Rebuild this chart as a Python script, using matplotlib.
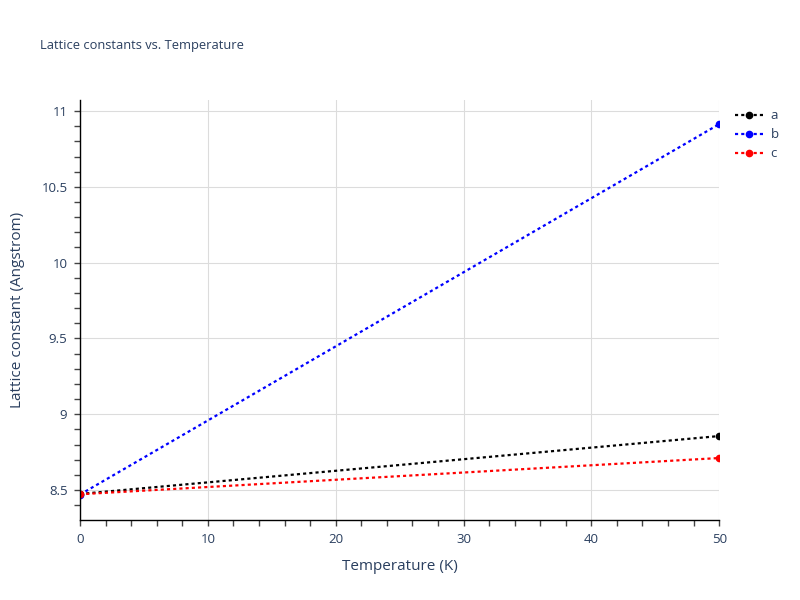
import matplotlib
matplotlib.use("Agg")
import matplotlib.pyplot as plt
from matplotlib.ticker import MultipleLocator, FuncFormatter

temperature = [0, 50]
a_vals = [8.474, 8.856]
b_vals = [8.470, 10.914]
c_vals = [8.472, 8.711]
series_names = ["a", "b", "c"]
series_colors = ["black", "blue", "red"]

txt = "#2a3f5f"
plt.rcParams['font.family'] = ['Open Sans', 'DejaVu Sans']

fig = plt.figure(figsize=(8, 6), dpi=100)
ax = fig.add_axes([0.1, 0.1333, 0.799, 0.7])

for vals, name, col in zip([a_vals, b_vals, c_vals], series_names, series_colors):
    ax.plot(temperature, vals, color=col, linewidth=1.6, dashes=(1.4, 1.4),
            marker='o', markersize=4.5, label=name, clip_on=True)

ax.set_xlim(0, 50)
ax.set_ylim(8.302, 11.073)
ax.xaxis.set_major_locator(MultipleLocator(10))
ax.xaxis.set_minor_locator(MultipleLocator(2))
ax.yaxis.set_major_locator(MultipleLocator(0.5))
ax.yaxis.set_minor_locator(MultipleLocator(0.1))
fmt = FuncFormatter(lambda v, p: "%g" % round(v, 3))
ax.xaxis.set_major_formatter(fmt)
ax.yaxis.set_major_formatter(fmt)

ax.grid(True, which='major', color='#dcdcdc', linewidth=0.8)
ax.set_axisbelow(True)
for s in ['top', 'right']:
    ax.spines[s].set_visible(False)
for s in ['left', 'bottom']:
    ax.spines[s].set_color('black')
    ax.spines[s].set_linewidth(1)
ax.tick_params(which='both', direction='out', color='#444444', labelcolor=txt,
               labelsize=9.5, width=1)
ax.tick_params(which='major', length=4, pad=5)
ax.tick_params(which='minor', length=4)

ax.set_xlabel("Temperature (K)", fontsize=11, color=txt, labelpad=10)
ax.set_ylabel("Lattice constant (Angstrom)", fontsize=11, color=txt, labelpad=12)
fig.text(0.05, 0.925, "Lattice constants vs. Temperature", fontsize=9.3, color=txt,
         ha='left', va='center')

leg = ax.legend(loc='upper left', bbox_to_anchor=(1.01, 1.0), frameon=False,
                fontsize=9.5, handlelength=2.2, handletextpad=0.5, labelspacing=0.45,
                borderaxespad=0.3)
for t in leg.get_texts():
    t.set_color(txt)

fig.savefig("out.png", dpi=100)
